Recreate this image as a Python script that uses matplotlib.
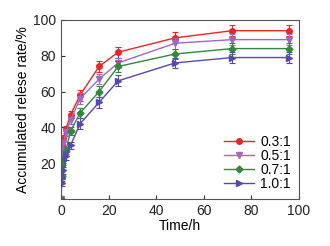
import numpy as np
import matplotlib
matplotlib.use("Agg")
import matplotlib.pyplot as plt

plt.rcParams['font.family'] = ['Liberation Sans', 'DejaVu Sans']

# sampling times (h)
time_h = [0, 0.25, 0.5, 1, 2, 4, 8, 16, 24, 48, 72, 96]

# accumulated release (%) for each ratio
rel_03 = [0, 22, 30, 34, 39, 47, 58, 74, 82, 90, 94, 94]
rel_05 = [0, 18, 27, 31, 37, 44, 56, 67, 76, 87, 89, 89]
rel_07 = [0, 13, 19, 22, 27, 38, 48, 60, 74, 81, 84, 84]
rel_10 = [0, 9, 12, 16, 24, 30, 42, 54, 66, 76, 79, 79]
err = [0, 2, 2, 2, 2, 2, 3, 3, 3, 3, 3, 3]

labels = ["0.3:1", "0.5:1", "0.7:1", "1.0:1"]
series = [rel_03, rel_05, rel_07, rel_10]
colors = ["#ee2424", "#a466c4", "#2f8a3c", "#5548b4"]
markers = ["o", "v", "D", ">"]
msizes = [4, 4.5, 3.5, 4.5]

fig = plt.figure(figsize=(3.3, 2.46), dpi=100)
ax = fig.add_axes([0.185, 0.191, 0.721, 0.728])

for y, lab, c, m, ms in zip(series, labels, colors, markers, msizes):
    ax.errorbar(time_h, y, yerr=err, color=c, fmt="none",
                elinewidth=0.8, capsize=2, capthick=0.8)
    ax.plot(time_h, y, color=c, marker=m, markersize=ms, linewidth=1, label=lab)

ax.set_xlim(0, 100)
ax.set_ylim(0, 100)
ax.set_xticks([0, 20, 40, 60, 80, 100])
ax.set_yticks([20, 40, 60, 80, 100])
ax.tick_params(direction="in", labelsize=10, length=3, colors="#333333", labelcolor="#222222")
for s in ax.spines.values():
    s.set_color("#555555")
ax.set_xlabel("Time/h", fontsize=10, labelpad=1)
ax.set_ylabel("Accumulated relese rate/%", fontsize=10, labelpad=2)

ax.legend(loc="lower right", frameon=False, fontsize=10, handlelength=2.2,
          labelspacing=0.0, borderaxespad=0.2, handletextpad=0.4)

fig.savefig("out.png", dpi=100)
